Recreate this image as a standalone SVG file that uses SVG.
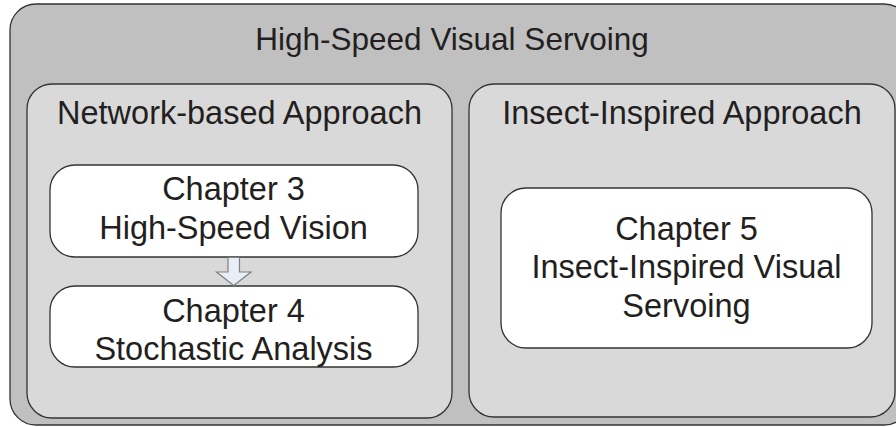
<svg xmlns="http://www.w3.org/2000/svg" width="896" height="427" viewBox="0 0 896 427">
  <style>
    .frame { stroke: #333333; stroke-width: 1.3; }
    .outer { fill: #c0c0c0; }
    .group { fill: #d9d9d9; }
    .chap { fill: #ffffff; }
    text { font-family: "Liberation Sans", Arial, sans-serif; font-size: 32.5px; fill: #231f20; text-anchor: middle; }
    .title { font-size: 31.5px; }
    .arrow { fill: #e8eef6; stroke: #808080; stroke-width: 1.2; }
  </style>

  <g id="hs-visual-servoing">
    <rect class="frame outer" x="10" y="4" width="900" height="421" rx="26" ry="26"/>
    <text class="title" x="452" y="50">High-Speed Visual Servoing</text>
  </g>

  <g id="network-approach">
    <rect class="frame group" x="27" y="84" width="425" height="334" rx="25" ry="25"/>
    <text x="239.5" y="124">Network-based Approach</text>
  </g>

  <g id="insect-approach">
    <rect class="frame group" x="469" y="84" width="426" height="333" rx="25" ry="25"/>
    <text x="682" y="124">Insect-Inspired Approach</text>
  </g>

  <g id="chapter3">
    <rect class="frame chap" x="50" y="165" width="368" height="92" rx="25" ry="25"/>
    <text x="233.5" y="200">Chapter 3</text>
    <text x="233.5" y="239">High-Speed Vision</text>
  </g>

  <g id="chapter4">
    <rect class="frame chap" x="50" y="286" width="368" height="81" rx="25" ry="25"/>
    <text x="233.5" y="322">Chapter 4</text>
    <text x="233.5" y="360">Stochastic Analysis</text>
  </g>

  <g id="chapter5">
    <rect class="frame chap" x="501" y="188" width="371" height="160" rx="25" ry="25"/>
    <text x="686.5" y="240">Chapter 5</text>
    <text x="686.5" y="278">Insect-Inspired Visual</text>
    <text x="686.5" y="317">Servoing</text>
  </g>

  <g id="connectors">
    <path class="arrow" d="M228 257.5 H239.5 V272 H251 L233.7 285.5 L216.5 272 H228 Z"/>
  </g>
</svg>
